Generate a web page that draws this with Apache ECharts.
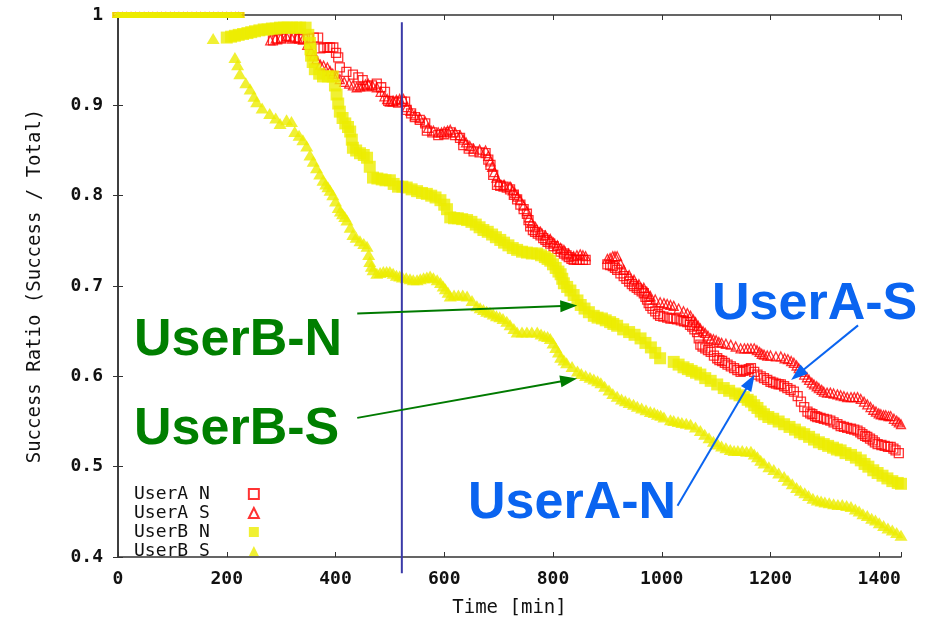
<!DOCTYPE html>
<html>
<head>
<meta charset="utf-8">
<script src="https://cdn.jsdelivr.net/npm/echarts@6/dist/echarts.min.js"></script>
<style>html,body{margin:0;padding:0;background:#fff}#c{width:931px;height:623px}</style>
</head>
<body>
<div id="c"></div>
<script>
// ---- data ----
const seriesNames = ['UserA N', 'UserA S', 'UserB N', 'UserB S'];
const xTicks = [0, 200, 400, 600, 800, 1000, 1200, 1400];
const yTicks = [0.4, 0.5, 0.6, 0.7, 0.8, 0.9, 1];
const cutoffTime = 522;

const topBand = [[0,1],[8,1],[16,1],[24,1],[32,1],[40,1],[48,1],[56,1],[64,1],[72,1],[80,1],[88,1],[96,1],[104,1],[112,1],[120,1],[128,1],[136,1],[144,1],[152,1],[160,1],[168,1],[176,1],[184,1],[192,1],[200,1],[208,1],[216,1],[222,1]];

const userAN = [[285,0.972],[293,0.973],[300,0.974],[310,0.977],[318,0.976],[325,0.975],[333,0.974],[340,0.973],[350,0.974],[360,0.975],[368,0.975],[372,0.963],[378,0.964],[385,0.964],[390,0.964],[396,0.964],[401,0.958],[405,0.953],[408,0.942],[420,0.937],[432,0.934],[442,0.931],[450,0.928],[458,0.921],[467,0.922],[476,0.924],[484,0.92],[491,0.915],[497,0.905],[505,0.904],[515,0.903],[522,0.904],[528,0.904],[531,0.895],[539,0.891],[546,0.887],[555,0.884],[565,0.88],[568,0.872],[578,0.87],[589,0.867],[600,0.868],[611,0.87],[620,0.867],[629,0.864],[635,0.856],[645,0.852],[654,0.849],[665,0.848],[676,0.847],[681,0.84],[685,0.834],[690,0.823],[697,0.812],[703,0.811],[709,0.81],[715,0.809],[721,0.807],[728,0.801],[734,0.796],[740,0.79],[746,0.785],[752,0.78],[755,0.773],[758,0.766],[763,0.762],[767,0.76],[772,0.758],[777,0.756],[782,0.753],[786,0.751],[790,0.749],[795,0.747],[801,0.744],[808,0.741],[814,0.738],[820,0.736],[825,0.734],[829,0.732],[834,0.73],[838,0.729],[844,0.729],[849,0.729],[855,0.729],[860,0.729],[900,0.724],[905,0.723],[910,0.722],[914,0.72],[918,0.718],[924,0.714],[930,0.711],[935,0.708],[940,0.705],[945,0.702],[949,0.7],[954,0.698],[958,0.696],[963,0.694],[967,0.692],[970,0.688],[973,0.685],[976,0.681],[979,0.678],[983,0.675],[988,0.672],[993,0.669],[997,0.667],[1003,0.666],[1010,0.665],[1016,0.664],[1022,0.664],[1028,0.663],[1035,0.662],[1041,0.661],[1047,0.66],[1052,0.657],[1056,0.655],[1060,0.652],[1065,0.649],[1068,0.642],[1071,0.635],[1075,0.633],[1080,0.631],[1085,0.629],[1090,0.627],[1096,0.623],[1102,0.62],[1106,0.618],[1111,0.617],[1116,0.615],[1121,0.613],[1127,0.611],[1133,0.609],[1139,0.607],[1145,0.605],[1150,0.606],[1155,0.607],[1160,0.608],[1164,0.609],[1170,0.605],[1176,0.602],[1182,0.6],[1188,0.598],[1194,0.596],[1200,0.594],[1205,0.593],[1210,0.592],[1215,0.591],[1219,0.591],[1225,0.589],[1231,0.587],[1237,0.585],[1243,0.583],[1250,0.578],[1256,0.572],[1262,0.566],[1268,0.561],[1273,0.559],[1277,0.558],[1282,0.556],[1286,0.555],[1292,0.554],[1298,0.553],[1304,0.552],[1310,0.551],[1316,0.549],[1323,0.547],[1329,0.545],[1335,0.544],[1341,0.543],[1348,0.542],[1354,0.541],[1360,0.54],[1365,0.538],[1369,0.536],[1374,0.534],[1378,0.533],[1383,0.531],[1388,0.529],[1392,0.527],[1397,0.525],[1404,0.524],[1410,0.523],[1416,0.522],[1421,0.522],[1426,0.52],[1430,0.518],[1436,0.515]];

const userAS = [[280,0.972],[290,0.974],[300,0.975],[310,0.976],[320,0.974],[330,0.975],[340,0.973],[348,0.967],[355,0.96],[360,0.955],[365,0.951],[372,0.945],[378,0.944],[385,0.942],[390,0.938],[395,0.935],[402,0.932],[408,0.929],[416,0.926],[425,0.924],[432,0.922],[439,0.92],[445,0.921],[450,0.922],[455,0.923],[460,0.924],[468,0.922],[476,0.92],[483,0.915],[490,0.91],[495,0.907],[500,0.904],[506,0.905],[512,0.906],[518,0.907],[525,0.907],[531,0.898],[538,0.894],[546,0.889],[555,0.886],[565,0.882],[570,0.875],[580,0.872],[589,0.87],[595,0.87],[600,0.871],[606,0.872],[611,0.873],[620,0.87],[629,0.867],[635,0.862],[640,0.859],[647,0.855],[654,0.852],[665,0.851],[676,0.85],[681,0.844],[685,0.838],[688,0.832],[692,0.826],[696,0.82],[700,0.815],[710,0.812],[721,0.81],[726,0.806],[730,0.803],[735,0.799],[740,0.795],[746,0.789],[752,0.783],[756,0.776],[760,0.77],[768,0.765],[777,0.76],[786,0.756],[795,0.752],[801,0.748],[808,0.745],[814,0.742],[820,0.74],[829,0.736],[838,0.733],[844,0.734],[850,0.735],[855,0.734],[860,0.733],[900,0.73],[905,0.731],[910,0.733],[914,0.733],[918,0.733],[924,0.725],[930,0.718],[940,0.712],[949,0.707],[958,0.702],[967,0.698],[973,0.693],[979,0.689],[988,0.685],[997,0.682],[1004,0.681],[1010,0.68],[1016,0.679],[1022,0.678],[1031,0.675],[1040,0.672],[1047,0.67],[1053,0.667],[1058,0.663],[1062,0.66],[1067,0.656],[1071,0.653],[1076,0.65],[1080,0.648],[1085,0.645],[1090,0.642],[1095,0.641],[1100,0.64],[1105,0.638],[1110,0.637],[1118,0.636],[1127,0.635],[1136,0.633],[1145,0.631],[1152,0.631],[1158,0.631],[1164,0.631],[1170,0.631],[1175,0.629],[1180,0.627],[1184,0.625],[1188,0.624],[1194,0.623],[1200,0.623],[1210,0.622],[1219,0.622],[1226,0.62],[1232,0.619],[1238,0.617],[1243,0.615],[1248,0.612],[1252,0.609],[1257,0.605],[1262,0.602],[1267,0.599],[1271,0.596],[1276,0.593],[1280,0.591],[1285,0.589],[1289,0.587],[1294,0.585],[1298,0.583],[1304,0.582],[1310,0.582],[1316,0.581],[1323,0.58],[1329,0.579],[1335,0.578],[1341,0.577],[1348,0.577],[1354,0.577],[1360,0.577],[1366,0.575],[1372,0.572],[1378,0.569],[1384,0.566],[1389,0.563],[1394,0.561],[1399,0.559],[1403,0.558],[1408,0.557],[1412,0.557],[1417,0.556],[1421,0.556],[1427,0.553],[1432,0.551],[1436,0.549],[1440,0.547]];

const userBN = [[200,0.975],[208,0.976],[215,0.977],[222,0.978],[230,0.979],[238,0.98],[245,0.981],[252,0.982],[260,0.983],[268,0.984],[275,0.984],[283,0.985],[290,0.985],[298,0.986],[305,0.986],[312,0.986],[320,0.986],[328,0.986],[335,0.986],[345,0.986],[350,0.978],[353,0.969],[354,0.962],[355,0.955],[358,0.948],[362,0.94],[370,0.935],[377,0.932],[386,0.932],[395,0.932],[399,0.922],[402,0.912],[405,0.902],[408,0.893],[413,0.886],[418,0.88],[423,0.876],[427,0.871],[430,0.862],[432,0.853],[438,0.85],[445,0.847],[452,0.845],[458,0.842],[463,0.832],[469,0.82],[477,0.819],[485,0.818],[492,0.817],[500,0.817],[507,0.813],[515,0.81],[523,0.81],[531,0.809],[540,0.807],[550,0.805],[559,0.803],[568,0.802],[576,0.8],[584,0.798],[593,0.795],[600,0.79],[605,0.785],[611,0.776],[618,0.775],[625,0.775],[633,0.774],[642,0.773],[650,0.771],[658,0.768],[665,0.765],[672,0.762],[680,0.76],[688,0.757],[695,0.754],[703,0.751],[710,0.748],[718,0.745],[726,0.742],[734,0.74],[743,0.738],[752,0.737],[761,0.736],[771,0.736],[778,0.734],[785,0.732],[790,0.73],[795,0.728],[800,0.724],[805,0.72],[810,0.716],[814,0.713],[817,0.708],[820,0.703],[826,0.699],[832,0.695],[838,0.69],[845,0.684],[851,0.679],[858,0.675],[866,0.671],[875,0.667],[882,0.665],[890,0.664],[897,0.662],[905,0.66],[911,0.658],[918,0.656],[929,0.652],[940,0.649],[950,0.646],[961,0.642],[970,0.637],[980,0.632],[988,0.626],[997,0.62],[1022,0.616],[1031,0.613],[1040,0.61],[1048,0.608],[1055,0.606],[1063,0.604],[1071,0.602],[1080,0.598],[1090,0.595],[1102,0.591],[1114,0.587],[1124,0.584],[1135,0.581],[1143,0.579],[1151,0.577],[1158,0.574],[1164,0.572],[1170,0.568],[1176,0.565],[1182,0.561],[1188,0.558],[1196,0.555],[1205,0.553],[1215,0.55],[1225,0.547],[1235,0.544],[1245,0.541],[1254,0.538],[1262,0.536],[1271,0.533],[1280,0.53],[1289,0.527],[1298,0.525],[1306,0.523],[1315,0.521],[1322,0.519],[1329,0.518],[1338,0.515],[1348,0.513],[1357,0.51],[1366,0.507],[1373,0.503],[1380,0.5],[1389,0.496],[1397,0.493],[1406,0.49],[1415,0.487],[1424,0.484],[1434,0.482],[1440,0.481]];

const userBS = [[175,0.974],[215,0.953],[220,0.945],[224,0.935],[235,0.925],[243,0.918],[250,0.91],[255,0.904],[265,0.897],[279,0.891],[290,0.886],[298,0.88],[310,0.884],[319,0.882],[325,0.871],[333,0.867],[340,0.862],[347,0.855],[353,0.845],[359,0.838],[365,0.831],[371,0.824],[377,0.817],[382,0.813],[386,0.81],[390,0.806],[395,0.801],[400,0.794],[405,0.787],[409,0.783],[413,0.78],[417,0.777],[421,0.773],[427,0.765],[432,0.757],[438,0.754],[445,0.75],[452,0.747],[458,0.744],[461,0.735],[463,0.727],[466,0.722],[469,0.718],[476,0.714],[482,0.715],[488,0.716],[494,0.716],[500,0.716],[506,0.714],[512,0.712],[518,0.711],[523,0.71],[530,0.709],[537,0.708],[543,0.707],[550,0.707],[556,0.708],[562,0.709],[568,0.71],[574,0.711],[580,0.709],[587,0.707],[593,0.704],[598,0.7],[602,0.697],[607,0.693],[611,0.689],[618,0.69],[626,0.69],[634,0.69],[642,0.689],[651,0.684],[660,0.678],[666,0.676],[672,0.674],[678,0.672],[684,0.671],[690,0.669],[696,0.667],[702,0.666],[708,0.664],[715,0.661],[721,0.657],[728,0.653],[734,0.649],[743,0.649],[752,0.649],[761,0.649],[771,0.649],[778,0.647],[784,0.645],[790,0.644],[795,0.642],[800,0.637],[805,0.632],[810,0.627],[814,0.621],[820,0.618],[825,0.615],[835,0.611],[845,0.606],[852,0.603],[860,0.601],[868,0.599],[875,0.597],[882,0.595],[888,0.593],[895,0.589],[903,0.585],[910,0.581],[918,0.578],[926,0.575],[933,0.573],[940,0.571],[948,0.569],[955,0.567],[963,0.565],[971,0.563],[979,0.561],[986,0.56],[992,0.558],[998,0.557],[1004,0.555],[1016,0.552],[1022,0.551],[1030,0.55],[1037,0.549],[1045,0.548],[1053,0.547],[1062,0.544],[1071,0.54],[1079,0.536],[1087,0.532],[1095,0.528],[1103,0.525],[1110,0.523],[1118,0.521],[1126,0.519],[1133,0.518],[1140,0.518],[1148,0.518],[1156,0.517],[1164,0.517],[1170,0.514],[1176,0.511],[1182,0.507],[1188,0.504],[1197,0.5],[1206,0.497],[1215,0.493],[1225,0.489],[1232,0.485],[1240,0.481],[1248,0.477],[1255,0.474],[1263,0.471],[1270,0.468],[1278,0.465],[1286,0.463],[1293,0.462],[1300,0.461],[1308,0.46],[1316,0.459],[1324,0.458],[1332,0.458],[1340,0.457],[1348,0.456],[1356,0.453],[1363,0.451],[1370,0.448],[1378,0.446],[1386,0.443],[1393,0.441],[1400,0.438],[1408,0.435],[1416,0.432],[1424,0.43],[1432,0.427],[1440,0.424]];

// annotation arrows: [start, end] in data coordinates
const arrowsGreen = [[[440,0.6695],[829,0.678]], [[440,0.554],[829,0.596]]];
const arrowsBlue = [[[1361,0.6564],[1250,0.602]], [[1029,0.4567],[1163,0.594]]];

// ---- chart ----
const RED = '#ff0000', YEL = '#ecec00';
const MONO = 'DejaVu Sans Mono';
const chart = echarts.init(document.getElementById('c'), null, {renderer: 'canvas'});

const baseAxis = {
  axisLine: {show: true, lineStyle: {color: '#333', width: 1.5}},
  axisTick: {show: true, inside: true, length: 5, lineStyle: {color: '#333', width: 1}},
  splitLine: {show: false}
};

function arrowLines(list, color) {
  return list.map(a => [
    {coord: a[0], lineStyle: {color: color, width: 2, type: 'solid'}},
    {coord: a[1]}
  ]);
}

const tickFmt = v => (xTicks.indexOf(v) >= 0 ? String(v) : '');
// points sitting on the top border look half-height in the reference
const sizeFor = base => (val => (val[1] >= 1 ? [base, Math.round(base / 2)] : base));

const option = {
  animation: false,
  backgroundColor: '#fff',
  grid: {left: 118, top: 15, width: 783, height: 550},
  xAxis: [
    Object.assign({}, baseAxis, {
      type: 'value', min: 0, max: 1440, interval: 200, position: 'bottom',
      name: 'Time [min]', nameLocation: 'middle', nameGap: 42,
      nameTextStyle: {fontFamily: MONO, fontSize: 19, color: '#111'},
      axisLabel: {fontFamily: MONO, fontSize: 18, fontWeight: 'bold', color: '#111', margin: 13, formatter: tickFmt}
    }),
    Object.assign({}, baseAxis, {
      type: 'value', min: 0, max: 1440, interval: 200, position: 'top',
      axisLabel: {show: false}
    })
  ],
  yAxis: [
    Object.assign({}, baseAxis, {
      type: 'value', min: 0.4, max: 1, interval: 0.1, position: 'left',
      name: 'Success Ratio (Success / Total)', nameLocation: 'middle', nameGap: 73,
      nameTextStyle: {fontFamily: MONO, fontSize: 19, color: '#111'},
      axisLabel: {fontFamily: MONO, fontSize: 18, fontWeight: 'bold', color: '#111', margin: 15,
        formatter: v => { const r = Math.round(v * 10) / 10; return yTicks.indexOf(r) >= 0 ? String(r) : ''; }}
    }),
    Object.assign({}, baseAxis, {
      type: 'value', min: 0.4, max: 1, interval: 0.1, position: 'right',
      axisLabel: {show: false}
    })
  ],
  legend: {
    orient: 'vertical', left: 129, top: 480, align: 'right',
    itemWidth: 10, itemHeight: 10, itemGap: 1,
    textStyle: {fontFamily: MONO, fontSize: 18, color: '#111', padding: [0, 34, 0, 0]},
    data: seriesNames
  },
  series: [
    {name: seriesNames[0], type: 'scatter', symbol: 'rect', symbolSize: sizeFor(9),
     itemStyle: {color: 'rgba(255,255,255,0)', borderColor: RED, borderWidth: 1.3},
     data: topBand.concat(userAN), clip: false},
    {name: seriesNames[1], type: 'scatter', symbol: 'triangle', symbolSize: sizeFor(9),
     itemStyle: {color: 'rgba(255,255,255,0)', borderColor: RED, borderWidth: 1.3},
     data: topBand.concat(userAS), clip: false},
    {name: seriesNames[2], type: 'scatter', symbol: 'rect', symbolSize: sizeFor(12),
     itemStyle: {color: YEL}, data: topBand.concat(userBN), clip: false},
    {name: seriesNames[3], type: 'scatter', symbol: 'triangle', symbolSize: (val => (val[1] >= 1 ? [12, 6] : [13, 11])),
     itemStyle: {color: YEL}, data: topBand.concat(userBS), clip: false},
    {name: 'cutoff', type: 'line', clip: false, symbol: 'none', silent: true,
     lineStyle: {color: '#3a3aa8', width: 2},
     data: [[cutoffTime, 0.992], [cutoffTime, 0.382]],
     markLine: {
       silent: true, symbol: ['none', 'triangle'], symbolSize: [12, 17],
       label: {show: false}, animation: false,
       data: arrowLines(arrowsGreen, '#007a00').concat(arrowLines(arrowsBlue, '#0a64f0'))
     }}
  ],
  graphic: [
    {type: 'text', left: 134, top: 315, style: {text: 'UserB-N', font: 'bold 52px "Liberation Sans", Arial', fill: '#007f00'}},
    {type: 'text', left: 134, top: 404, style: {text: 'UserB-S', font: 'bold 52px "Liberation Sans", Arial', fill: '#007f00'}},
    {type: 'text', left: 712, top: 279, style: {text: 'UserA-S', font: 'bold 52px "Liberation Sans", Arial', fill: '#0a64f0'}},
    {type: 'text', left: 468, top: 478, style: {text: 'UserA-N', font: 'bold 52px "Liberation Sans", Arial', fill: '#0a64f0'}}
  ]
};
chart.setOption(option);
</script>
</body>
</html>
